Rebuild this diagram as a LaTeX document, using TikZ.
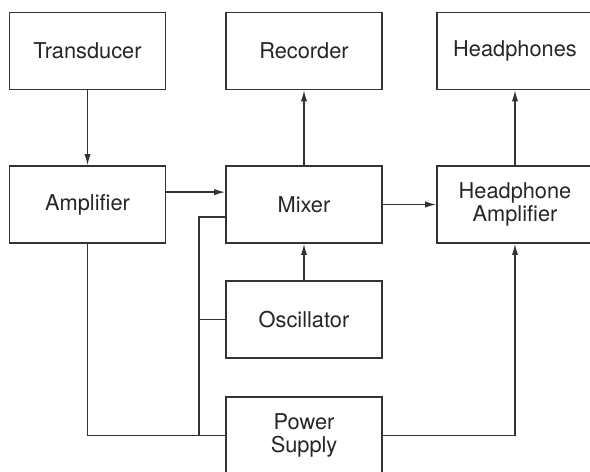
\documentclass[tikz,border=0pt]{standalone}
\usepackage{fontspec}
\setmainfont{TeX Gyre Heros}
\usetikzlibrary{arrows.meta}
\begin{document}
\begin{tikzpicture}[
    block/.style={draw=black!80, line width=1pt, minimum width=3.9cm, minimum height=1.925cm,
      align=center, text=black!85, font=\fontsize{15.5}{16.5}\selectfont},
    wire/.style={draw=black!80, line width=1pt},
    sig/.style={wire, -{Latex[length=8pt,width=4.5pt]}}
  ]
    \clip (0,0) rectangle (14.75,-11.775);

    % Blocks
    \foreach \n/\x/\y/\t in {
        trans/2.1875/-1.275/{Transducer},
        rec/7.6/-1.275/{Recorder},
        hph/12.875/-1.275/{Headphones},
        amp/2.1875/-5.1125/{Amplifier},
        mix/7.6/-5.1125/{Mixer},
        hamp/12.875/-5.1125/{Headphone\\Amplifier},
        osc/7.6/-7.9875/{Oscillator},
        psu/7.6/-10.8875/{Power\\Supply}}{
      \node[block] (\n) at (\x,\y) {\t};
    }

    % Signal path
    \draw[sig] (trans.south) -- (amp.north);
    \draw[sig] ([yshift=0.31cm]amp.east) -- ([yshift=0.31cm]mix.west);
    \draw[sig] (mix.north) -- (rec.south);
    \draw[sig] (osc.north) -- (mix.south);
    \draw[sig] (mix.east) -- (hamp.west);
    \draw[sig] (hamp.north) -- (hph.south);

    % Power distribution
    \coordinate (tap) at (4.975,0);
    \draw[wire] ([yshift=-0.31cm]mix.west) -| (tap |- psu.west) -- (psu.west);
    \draw[wire] (osc.west) -- (osc.west -| tap);
    \draw[wire] (amp.south) |- (psu.west);
    \draw[sig] (psu.east) -| (hamp.south);

  \end{tikzpicture}
\end{document}
